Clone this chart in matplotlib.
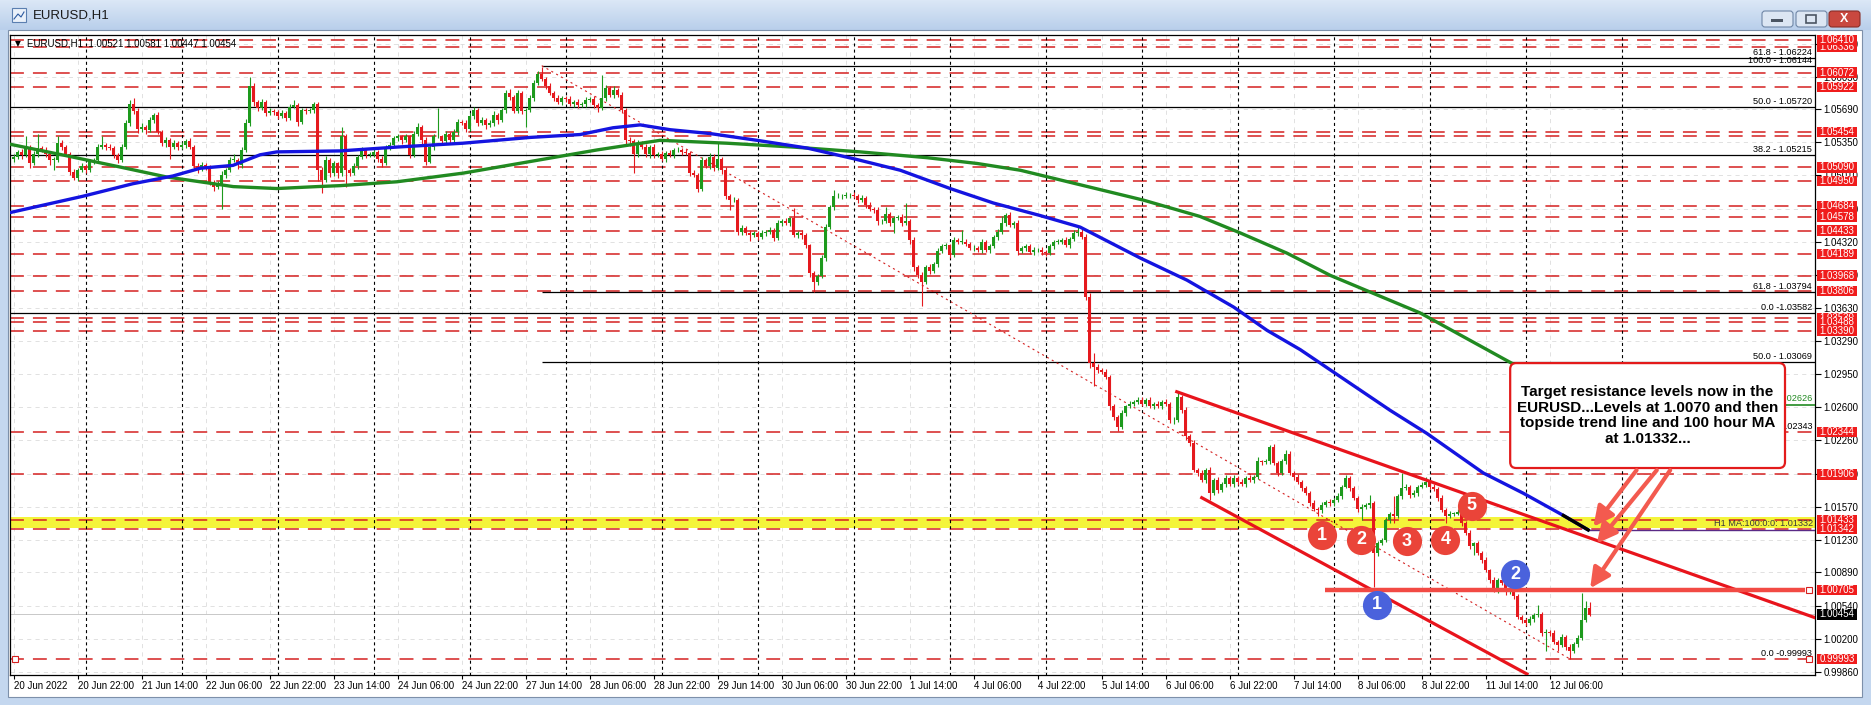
import numpy as np
import matplotlib
matplotlib.use("Agg")
import matplotlib.pyplot as plt
from matplotlib.patches import Rectangle, FancyBboxPatch
from matplotlib.colors import LinearSegmentedColormap

plt.rcParams['font.family'] = ['Liberation Sans', 'DejaVu Sans']
plt.rcParams['lines.scale_dashes'] = False

# ------------------------------------------------------------------ data
trading_days = ['20 Jun', '21 Jun', '22 Jun', '23 Jun', '24 Jun', '27 Jun', '28 Jun',
                '29 Jun', '30 Jun', '1 Jul', '4 Jul', '5 Jul', '6 Jul', '7 Jul',
                '8 Jul', '11 Jul', '12 Jul', '13 Jul']
first_bar = 6          # 20 Jun 06:00 is the first visible H1 bar
first_open = 518       # pips above 1.0000

# H1 closes, pips above 1.0000, one row per trading day
closes = [
    [520, 525, 522, 530, 513, 523, 529, 527, 523, 517, 517, 534, 530, 523, 504, 498, 506, 510],
    [506, 515, 517, 530, 532, 530, 529, 522, 517, 530, 555, 575, 567, 549, 551, 548, 558, 563, 546, 534, 537, 530, 534, 530],
    [532, 536, 530, 510, 508, 511, 508, 494, 489, 492, 501, 506, 517, 517, 511, 527, 555, 593, 577, 570, 577, 565, 567, 566],
    [562, 565, 560, 572, 574, 556, 568, 567, 568, 575, 506, 496, 517, 503, 513, 503, 541, 506, 503, 510, 520, 527, 522, 522],
    [525, 518, 513, 530, 532, 539, 541, 537, 541, 522, 544, 551, 537, 515, 530, 541, 541, 536, 544, 537, 546, 556, 555, 549],
    [562, 568, 555, 558, 553, 555, 563, 558, 568, 586, 582, 567, 586, 567, 568, 581, 596, 606, 601, 593, 586, 581, 577, 581],
    [580, 575, 577, 574, 575, 579, 580, 574, 570, 581, 591, 584, 589, 584, 568, 537, 536, 523, 534, 530, 523, 530, 522, 523],
    [518, 524, 522, 527, 527, 525, 524, 503, 501, 487, 517, 510, 520, 508, 518, 506, 479, 475, 475, 442, 446, 441, 439, 441],
    [437, 441, 442, 444, 436, 451, 453, 451, 456, 439, 441, 439, 428, 399, 390, 396, 415, 447, 468, 479, 479, 479, 480, 480],
    [479, 475, 477, 470, 466, 465, 453, 453, 461, 451, 456, 458, 451, 453, 434, 406, 397, 390, 406, 401, 409, 422, 427, 428],
    [418, 434, 432, 432, 430, 425, 425, 423, 432, 423, 427, 437, 442, 451, 460, 449, 451, 422, 425, 427, 421, 423, 423, 421],
    [420, 427, 432, 432, 434, 428, 435, 441, 442, 437, 375, 306, 302, 299, 297, 292, 261, 250, 240, 254, 261, 264, 266, 268],
    [264, 268, 261, 264, 261, 266, 264, 247, 247, 271, 257, 230, 223, 195, 192, 185, 195, 171, 185, 174, 181, 187, 181, 187],
    [183, 181, 187, 185, 188, 204, 203, 204, 219, 202, 192, 204, 212, 192, 188, 183, 176, 171, 161, 155, 154, 159, 162, 161],
    [164, 168, 178, 187, 176, 166, 155, 157, 159, 161, 109, 119, 123, 143, 150, 147, 168, 176, 178, 169, 171, 178, 180, 183],
    [178, 175, 166, 154, 147, 150, 150, 152, 140, 130, 116, 119, 109, 102, 91, 81, 71, 81, 78, 69, 71, 64, 43, 40],
    [36, 41, 45, 46, 26, 27, 26, 17, 14, 22, 12, 7, 15, 21, 40, 52, 45],
]
# wick lengths beyond the body, pips
upper_wicks = [
    [3, 2, 3, 11, 2, 3, 15, 2, 3, 2, 3, 7, 3, 2, 2, 3, 2, 3],
    [2, 3, 2, 3, 9, 2, 3, 2, 2, 3, 3, 4, 6, 3, 4, 2, 3, 2, 3, 2, 3, 2, 3, 2],
    [3, 2, 3, 2, 3, 4, 2, 3, 2, 3, 4, 2, 3, 6, 2, 3, 4, 10, 3, 2, 3, 2, 3, 2],
    [2, 3, 2, 3, 5, 2, 3, 2, 3, 2, 2, 3, 4, 2, 3, 2, 10, 3, 2, 3, 2, 3, 2, 3],
    [3, 2, 3, 2, 3, 2, 3, 2, 3, 2, 3, 4, 2, 3, 2, 3, 29, 2, 3, 2, 3, 3, 2, 3],
    [3, 4, 2, 3, 2, 3, 4, 2, 3, 3, 4, 2, 3, 2, 3, 3, 4, 3, 7, 2, 3, 2, 3, 2],
    [2, 3, 2, 3, 2, 3, 2, 3, 2, 24, 3, 2, 4, 2, 3, 2, 3, 2, 3, 2, 3, 2, 3, 2],
    [3, 2, 3, 2, 3, 2, 3, 2, 3, 2, 3, 2, 4, 3, 16, 2, 3, 2, 3, 2, 3, 2, 3, 2],
    [2, 3, 2, 3, 2, 3, 2, 3, 2, 11, 2, 3, 2, 2, 3, 2, 3, 3, 2, 6, 3, 2, 3, 2],
    [3, 2, 3, 2, 3, 2, 3, 2, 7, 2, 3, 2, 3, 19, 2, 3, 2, 3, 2, 3, 2, 3, 2, 3],
    [2, 3, 2, 12, 3, 2, 3, 2, 3, 2, 3, 2, 3, 8, 2, 3, 2, 3, 2, 3, 2, 3, 2, 3],
    [2, 3, 2, 3, 2, 3, 2, 3, 7, 3, 3, 4, 10, 3, 2, 3, 2, 3, 2, 3, 2, 3, 2, 3],
    [3, 2, 3, 2, 3, 2, 3, 2, 3, 5, 2, 3, 2, 3, 2, 3, 2, 3, 2, 3, 2, 3, 2, 3],
    [2, 3, 2, 3, 2, 5, 2, 3, 2, 3, 2, 3, 4, 3, 2, 3, 2, 3, 2, 3, 2, 3, 2, 3],
    [2, 3, 2, 3, 2, 3, 2, 3, 2, 8, 2, 3, 2, 3, 2, 18, 2, 16, 3, 2, 3, 2, 3, 5],
    [2, 3, 2, 3, 2, 3, 2, 3, 5, 2, 3, 2, 3, 2, 3, 2, 3, 2, 3, 2, 3, 2, 3, 2],
    [2, 3, 2, 9, 2, 3, 2, 3, 2, 3, 2, 3, 2, 3, 28, 7, 6],
]
lower_wicks = [
    [3, 2, 4, 2, 5, 2, 3, 2, 3, 6, 11, 2, 3, 2, 3, 2, 3, 2],
    [3, 2, 3, 2, 2, 3, 2, 3, 4, 2, 2, 3, 3, 4, 3, 4, 2, 3, 2, 3, 4, 12, 2, 3],
    [2, 3, 2, 4, 5, 3, 2, 3, 5, 3, 26, 3, 2, 3, 4, 3, 2, 3, 4, 3, 2, 3, 2, 3],
    [3, 2, 3, 2, 2, 4, 2, 3, 2, 3, 11, 14, 2, 4, 3, 5, 3, 17, 3, 2, 3, 2, 3, 2],
    [2, 3, 4, 2, 3, 2, 3, 4, 2, 3, 2, 3, 5, 4, 2, 3, 2, 3, 2, 4, 2, 3, 2, 3],
    [2, 3, 3, 2, 4, 2, 3, 4, 2, 3, 3, 2, 2, 3, 16, 2, 3, 2, 3, 3, 2, 3, 2, 3],
    [3, 2, 3, 4, 2, 3, 2, 3, 4, 2, 3, 2, 3, 2, 3, 4, 5, 20, 3, 2, 3, 4, 3, 2],
    [2, 3, 2, 3, 2, 3, 2, 3, 2, 4, 3, 2, 3, 3, 2, 4, 3, 10, 2, 3, 3, 2, 6, 2],
    [3, 2, 3, 2, 3, 2, 3, 2, 3, 2, 3, 4, 3, 4, 10, 3, 2, 3, 2, 3, 2, 3, 2, 3],
    [2, 3, 2, 3, 2, 3, 4, 3, 2, 3, 10, 2, 3, 2, 4, 5, 3, 25, 2, 3, 2, 3, 2, 3],
    [3, 2, 3, 2, 3, 2, 3, 2, 3, 2, 3, 2, 3, 2, 3, 2, 3, 4, 2, 3, 2, 3, 2, 3],
    [3, 2, 3, 2, 3, 2, 3, 2, 3, 2, 4, 5, 20, 3, 2, 3, 4, 3, 4, 2, 3, 2, 3, 2],
    [2, 3, 2, 3, 2, 3, 2, 3, 4, 2, 3, 4, 3, 2, 3, 2, 3, 7, 2, 3, 2, 3, 2, 3],
    [3, 2, 3, 2, 3, 2, 3, 2, 3, 2, 3, 2, 3, 2, 3, 2, 3, 2, 3, 2, 7, 3, 2, 3],
    [3, 2, 3, 2, 3, 2, 3, 12, 2, 3, 35, 3, 2, 3, 3, 7, 2, 3, 2, 3, 2, 3, 2, 3],
    [3, 2, 3, 2, 7, 2, 3, 2, 3, 2, 3, 9, 2, 3, 2, 3, 2, 3, 2, 3, 2, 3, 2, 3],
    [3, 2, 3, 2, 3, 19, 3, 2, 7, 2, 3, 8, 2, 3, 2, 2, 1],
]

# moving averages (bar index, pips above 1.0000)
ma100_bar = [5.0, 23.3, 35.8, 45.8, 52.6, 60.8, 67.6, 71.8, 87.6, 101.8, 118.3, 135.1, 147.6,
             155.8, 162.6, 170.1, 180.1, 191.8, 204.3, 215.9, 227.6, 240.1, 250.9, 262.6, 272.6,
             287.6, 299.3, 311, 319.3, 327.6, 335.1, 350.1, 359.3, 373.4, 383.4, 393.4, 399.6]
ma100_pips = [462, 479, 492, 500, 508, 511, 522, 525, 526, 530, 534, 540, 543, 550, 553, 548,
              544, 537, 529, 518, 506, 487, 472, 459, 447, 415, 392, 364, 340, 320, 299, 257,
              233, 192, 171, 148, 133]
ma200_bar = [5.0, 19.2, 31.8, 44.2, 52.6, 60.9, 71.8, 81.8, 87.6, 101.8, 118.4, 135.1, 151.8,
             167.6, 184.3, 200.9, 217.6, 234.3, 246.8, 257.6, 288.4, 302.6, 312.6, 324.3, 335.1,
             357.6, 379.1, 399.6]
ma200_pips = [533, 521, 510, 499, 494, 489, 487, 489, 490, 494, 503, 515, 527, 537, 534, 530,
              525, 519, 513, 506, 475, 458, 441, 420, 397, 358, 309, 263]

# horizontal levels
red_levels = [1.06410, 1.06336, 1.06072, 1.05922, 1.05454, 1.05410, 1.05090, 1.04950, 1.04684,
              1.04578, 1.04433, 1.04189, 1.03968, 1.03806, 1.03530, 1.03488, 1.03390, 1.02344,
              1.01906, 1.01433, 1.01342, 0.99993]
red_tags = [1.06336, 1.06410, 1.06072, 1.05922, 1.05454, 1.05090, 1.04950, 1.04684, 1.04578,
            1.04433, 1.04189, 1.03968, 1.03806, 1.03530, 1.03488, 1.03390, 1.02344, 1.01906,
            1.01433, 1.01342, 1.00705, 0.99993]
price_ticks = [0.99860, 1.00200, 1.00540, 1.00890, 1.01230, 1.01570, 1.01910, 1.02260, 1.02600,
               1.02950, 1.03290, 1.03630, 1.03970, 1.04320, 1.04660, 1.05010, 1.05350, 1.05690,
               1.06030, 1.06370]
last_price = 1.00454
ma100_last = 1.01332
ma200_last = 1.02626
zone = (1.01347, 1.01467)
break_level = 1.00705

fib_full = [1.06224, 1.05720, 1.05215, 1.03582]
fib_from_high = [1.06144, 1.03794, 1.03069]
fib_text = [('61.8 - 1.06224', 1.06224), ('100.0 - 1.06144', 1.06144), ('50.0 - 1.05720', 1.05720),
            ('38.2 - 1.05215', 1.05215), ('61.8 - 1.03794', 1.03794), ('0.0 -1.03582', 1.03582),
            ('50.0 - 1.03069', 1.03069), ('38.2 - 1.02343', 1.02343), ('0.0 -0.99993', 0.99993)]
swing = ([138, 395], [1.06144, 0.99993])
upper_trend = ([296.75, 456.3], [1.02763, 1.00420])
lower_trend = ([303, 384.3], [1.01664, 0.99836])
break_span = (333.8, 453.8)

time_labels = ['20 Jun 2022', '20 Jun 22:00', '21 Jun 14:00', '22 Jun 06:00', '22 Jun 22:00',
               '23 Jun 14:00', '24 Jun 06:00', '24 Jun 22:00', '27 Jun 14:00', '28 Jun 06:00',
               '28 Jun 22:00', '29 Jun 14:00', '30 Jun 06:00', '30 Jun 22:00', '1 Jul 14:00',
               '4 Jul 06:00', '4 Jul 22:00', '5 Jul 14:00', '6 Jul 06:00', '6 Jul 22:00',
               '7 Jul 14:00', '8 Jul 06:00', '8 Jul 22:00', '11 Jul 14:00', '12 Jul 06:00']

red_marks = [(333, 1.01277, '1'), (342.8, 1.01226, '2'), (354.25, 1.01215, '3'),
             (363.9, 1.01226, '4'), (370.5, 1.01581, '5')]
blue_marks = [(346.75, 1.00552, '1'), (381.3, 1.00870, '2')]

note = ("Target resistance levels now in the\nEURUSD...Levels at 1.0070 and then\n"
        "topside trend line and 100 hour MA\nat 1.01332...")
# arrows: (from bar, from price) -> (to bar, to price)
arrows = [((411.7, 1.0195), (400.9, 1.01363)),
          ((416.75, 1.0195), (401.75, 1.01190)),
          ((420.1, 1.0195), (400.1, 1.00725))]

# ------------------------------------------------------------------ helpers
W, H = 1871, 705
PX = 9644.0  # pixels per 1.0 of price


def bar_of(label):
    d, m, hm = label.split()
    return trading_days.index(d + ' ' + m) * 24 + int(hm[:2])


def ax_frac(px):
    return (px - 10) / 1805.0


close = 1 + np.concatenate(closes) / 1e4
up_w = np.concatenate(upper_wicks) / 1e4
dn_w = np.concatenate(lower_wicks) / 1e4
bars = np.arange(first_bar, first_bar + len(close))
opn = np.r_[1 + first_open / 1e4, close[:-1]]
high = np.maximum(opn, close) + up_w
low = np.minimum(opn, close) - dn_w
rising = close >= opn

tick_bars = [first_bar] + [bar_of(t) for t in time_labels[1:]]

# ------------------------------------------------------------------ window chrome
fig = plt.figure(figsize=(W / 100, H / 100), dpi=100)
fig.patch.set_facecolor('#c4d7ef')
bg = fig.add_axes([0, 0, 1, 1], zorder=-5)
bg.axis('off')
tb = LinearSegmentedColormap.from_list('tb', ['#dbe7f6', '#b9cfeb'])
bg.imshow(np.linspace(0, 1, 30)[:, None], extent=(0, W, 30, 0), cmap=tb, aspect='auto')
bg.add_patch(Rectangle((8, 30), 1854, 667, fc='white', ec='#7d90aa', lw=0.8))
bg.add_patch(Rectangle((12, 8), 14, 14, fc='#eaf1fa', ec='#5b7fb0', lw=0.8))
bg.plot([14, 18, 21, 24], [19, 14, 17, 12], color='#2c5aa0', lw=0.8)
bg.text(33, 16, 'EURUSD,H1', fontsize=9.5, va='center', color='#1a1a1a')
for x0, fc, ec in [(1762, '#dce6f3', '#6f86a6'), (1796, '#dce6f3', '#6f86a6'),
                   (1829, '#c9483f', '#8a2d27')]:
    bg.add_patch(FancyBboxPatch((x0, 11), 31, 16, boxstyle='round,pad=0,rounding_size=3',
                                fc=fc, ec=ec, lw=0.8))
bg.add_patch(Rectangle((1771, 19), 12, 3, fc='#4b5563', ec='none'))
bg.add_patch(Rectangle((1806, 15), 10, 8, fc='none', ec='#4b5563', lw=1.2))
bg.text(1844.5, 19, 'X', fontsize=9, fontweight='bold', color='white', ha='center', va='center')
bg.set_xlim(0, W)
bg.set_ylim(H, 0)

# ------------------------------------------------------------------ chart
ax = fig.add_axes([10 / W, 1 - 675 / H, 1805 / W, 640 / H])
ax.set_facecolor('white')
x0, x1 = 5.075, 456.3
ax.set_xlim(x0, x1)
ax.set_ylim(0.998258, 1.064620)
for s in ax.spines.values():
    s.set_linewidth(0.9)
    s.set_color('black')

ytr = ax.get_yaxis_transform()

# light grid and day separators
ax.hlines(price_ticks, x0, x1, colors='#dcdcdc', lw=0.6, linestyles=[(0, (3, 3))], zorder=0.2)
ax.vlines(tick_bars, 0.99, 1.07, colors='#dcdcdc', lw=0.6, linestyles=[(0, (3, 3))], zorder=0.2)
separators = [24 * k for k in range(1, len(trading_days))]
ax.vlines(separators, 0.99, 1.07, colors='black', lw=0.8, linestyles=[(0, (2.2, 2.2))], zorder=1.2)

# support/resistance zone and levels
ax.axhspan(zone[0], zone[1], color='#f4f43a', lw=0, zorder=0.4)
ax.hlines(red_levels, x0, x1, colors='#d42020', lw=1.1, linestyles=[(0, (10, 6.5))], zorder=1)
ax.axhline(last_price, color='#c8c8c8', lw=0.7, zorder=0.9)

# fibonacci lines
ax.hlines(fib_full, x0, x1, colors='black', lw=0.9, zorder=1.1)
ax.hlines(fib_from_high, swing[0][0], x1, colors='black', lw=0.9, zorder=1.1)
ax.plot(swing[0], swing[1], color='#d42020', lw=0.8, ls=(0, (1.5, 2.5)), zorder=1.3)
for txt, lev in fib_text:
    ax.text(ax_frac(1812), lev + 1.0 / PX, txt, transform=ytr, ha='right', va='bottom',
            fontsize=6.6, color='black', zorder=1.4)

# candles
col = np.where(rising, '#1d9a1d', '#e5191e')
ax.vlines(bars, low, high, colors=col, lw=0.8, zorder=3)
ax.bar(bars, np.maximum(np.abs(close - opn), 0.00004), bottom=np.minimum(opn, close),
       width=0.72, color=col, lw=0, zorder=3)

# moving averages
ma100 = 1 + np.array(ma100_pips) / 1e4
ma200 = 1 + np.array(ma200_pips) / 1e4
ax.plot(ma200_bar, ma200, color='#218a21', lw=2.4, zorder=4, solid_capstyle='round')
ax.plot(ma100_bar, ma100, color='#1414e0', lw=2.4, zorder=4, solid_capstyle='round')
ax.plot(ma100_bar[-2:], ma100[-2:], color='black', lw=2.4, zorder=4.1)
ax.hlines(ma100_last, ma100_bar[-1], x1, colors='#5a2a86', lw=1.0, zorder=4)
ax.hlines(ma200_last, ma200_bar[-1], x1, colors='#218a21', lw=1.2, zorder=4)
ax.text(ax_frac(1813), ma100_last + 1.5 / PX, 'H1 MA:100:0:0: 1.01332', transform=ytr,
        ha='right', va='bottom', fontsize=6.6, color='#3a3a3a', zorder=4.2)
ax.text(ax_frac(1813), ma200_last + 1.5 / PX, '1.02626', transform=ytr,
        ha='right', va='bottom', fontsize=6.6, color='#218a21', zorder=4.2)

# trend channel and breakout level
ax.plot(upper_trend[0], upper_trend[1], color='#e8141c', lw=2.3, zorder=5)
ax.plot(lower_trend[0], lower_trend[1], color='#e8141c', lw=2.3, zorder=5)
ax.hlines(break_level, break_span[0], break_span[1], colors='#f24a44', lw=3.2, zorder=5)
ax.plot([454.9, 454.9, 6.3], [break_level, 0.99993, 0.99993], ls='none', marker='s', ms=4,
        mfc='white', mec='#d42020', mew=0.8, zorder=5.2, clip_on=False)

# numbered circles
for b, p, t in red_marks:
    ax.plot(b, p, 'o', ms=21, mfc='#ea4439', mec='none', zorder=6)
    ax.text(b, p, t, ha='center', va='center', color='white', fontsize=13, fontweight='bold', zorder=6.1)
for b, p, t in blue_marks:
    ax.plot(b, p, 'o', ms=21, mfc='#4a62dc', mec='none', zorder=6)
    ax.text(b, p, t, ha='center', va='center', color='white', fontsize=13, fontweight='bold', zorder=6.1)

# note box and arrows
bx0, bx1, by0, by1 = 380.1, 448.8, 1.01972, 1.03060
ax.add_patch(FancyBboxPatch((bx0, by0), bx1 - bx0, by1 - by0,
                            boxstyle='round,pad=0,rounding_size=1.5', mutation_aspect=0.000415,
                            fc='white', ec='#e31b1b', lw=1.6, zorder=7))
ax.text((bx0 + bx1) / 2, 1.02516, note, ha='center', va='center', fontsize=11,
        fontweight='bold', linespacing=1.15, color='black', zorder=7.1)
for (sb, sp), (eb, ep) in arrows:
    ax.annotate('', xy=(eb, ep), xytext=(sb, sp), zorder=8,
                arrowprops=dict(arrowstyle='-|>,head_length=0.6,head_width=0.3',
                                color='#f35a4f', lw=3.0, mutation_scale=20,
                                shrinkA=0, shrinkB=0))

# header text
ax.text(ax_frac(15), 0.986, '\u25bc', transform=ax.transAxes, fontsize=5.5, va='center',
        family='DejaVu Sans')
ax.text(ax_frac(27), 0.986, 'EURUSD,H1  1.00521 1.00581 1.00447 1.00454',
        transform=ax.transAxes, fontsize=7, va='center')

# axes ticks
ax.set_xticks(tick_bars)
ax.set_xticklabels(time_labels, ha='left', fontsize=7)
ax.tick_params(axis='x', length=3, width=0.8, pad=1)
ax.yaxis.tick_right()
ax.set_yticks(price_ticks)
ax.set_yticklabels([f'{p:.5f}' for p in price_ticks])
ax.tick_params(axis='y', length=4, width=0.8, pad=2, labelsize=7)

# price tags on the right scale
for k, p in enumerate(red_tags):
    z = 9 + 0.01 * k
    ax.add_patch(Rectangle((ax_frac(1817), p - 5.2 / PX), 40 / 1805, 10.4 / PX, transform=ytr,
                           fc='#f01c1c', ec='none', clip_on=False, zorder=z))
    ax.text(ax_frac(1819.5), p, f'{p:.5f}', transform=ytr, color='white', fontsize=7,
            va='center', ha='left', clip_on=False, zorder=z + 0.005)
ax.add_patch(Rectangle((ax_frac(1817), last_price - 5.2 / PX), 40 / 1805, 10.4 / PX,
                       transform=ytr, fc='black', ec='none', clip_on=False, zorder=9.5))
ax.text(ax_frac(1819.5), last_price, f'{last_price:.5f}', transform=ytr, color='white',
        fontsize=7, va='center', ha='left', clip_on=False, zorder=9.6)

fig.savefig('out.png', dpi=100)
